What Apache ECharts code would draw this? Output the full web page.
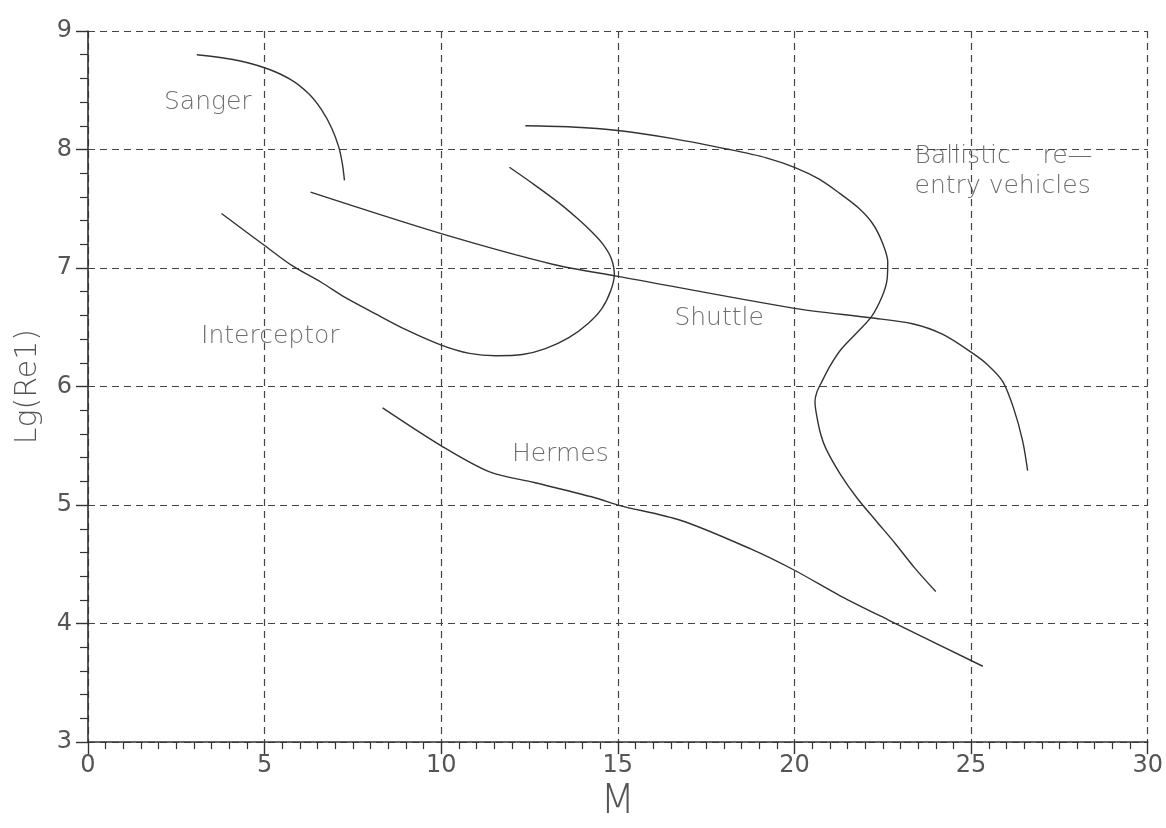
<!DOCTYPE html>
<html>
<head>
<meta charset="utf-8">
<title>Lg(Re1) vs M</title>
<script src="https://cdn.jsdelivr.net/npm/echarts@6/dist/echarts.min.js"></script>
<style>
  html, body { margin: 0; padding: 0; background: #fff; }
  #chart { width: 1166px; height: 828px; }
</style>
</head>
<body>
<div id="chart"></div>
<script>
// Flight corridors: Mach number M vs log10 of unit Reynolds number
const sanger = [[3.08,8.80],[4.1,8.76],[5.0,8.69],[5.74,8.59],[6.25,8.47],[6.6,8.34],[6.9,8.18],[7.1,8.02],[7.2,7.88],[7.26,7.74]];
const interceptor = [[3.78,7.46],[4.5,7.30],[5.0,7.19],[5.78,7.02],[6.6,6.88],[7.29,6.75],[8.1,6.62],[9.0,6.48],[10.0,6.35],[10.8,6.28],[11.55,6.26],[12.3,6.27],[12.95,6.32],[13.6,6.41],[14.15,6.53],[14.55,6.66],[14.8,6.81],[14.9,6.95],[14.8,7.09],[14.58,7.20],[14.28,7.30],[13.85,7.42],[13.33,7.55],[12.65,7.70],[11.93,7.85]];
const shuttle = [[6.3,7.64],[10.0,7.29],[13.18,7.03],[15.0,6.93],[20.0,6.66],[22.16,6.58],[23.34,6.53],[24.2,6.44],[25.0,6.29],[25.48,6.18],[25.9,6.04],[26.2,5.82],[26.46,5.54],[26.6,5.29]];
const ballistic = [[12.38,8.20],[13.7,8.19],[15.0,8.16],[16.6,8.09],[18.16,8.00],[19.2,7.93],[20.0,7.85],[20.7,7.75],[21.28,7.63],[21.8,7.51],[22.2,7.38],[22.48,7.22],[22.64,7.05],[22.62,6.90],[22.48,6.76],[22.18,6.59],[21.75,6.45],[21.31,6.31],[21.0,6.17],[20.79,6.05],[20.63,5.95],[20.58,5.87],[20.62,5.77],[20.74,5.60],[20.9,5.47],[21.3,5.26],[21.77,5.06],[22.3,4.87],[22.84,4.68],[23.4,4.47],[24.0,4.27]];
const hermes = [[8.34,5.82],[10.0,5.50],[11.37,5.28],[12.63,5.19],[14.37,5.06],[15.0,5.00],[16.79,4.87],[18.76,4.63],[20.0,4.45],[21.32,4.23],[22.66,4.03],[25.33,3.64]];

// Curve captions, anchored at the left end of each text line
const captionNames = ['Sanger', 'Interceptor', 'Shuttle', 'Hermes', 'Ballistic    re\u2014', 'entry vehicles'];
const captionAnchors = [[2.15,8.40],[3.2,6.42],[16.6,6.57],[12.0,5.43],[23.4,7.94],[23.4,7.69]];

const xTicks = { min: 0, max: 30, step: 5 };
const yTicks = { min: 3, max: 9, step: 1 };

const inkColor = '#333';
const textColor = '#555';
const fontFamily = 'DejaVu Sans, sans-serif';

function curve(name, data) {
  return {
    name: name,
    type: 'line',
    data: data,
    smooth: 0.3,
    showSymbol: false,
    symbol: 'none',
    lineStyle: { color: inkColor, width: 1.4 },
    silent: true,
    z: 3
  };
}

const chart = echarts.init(document.getElementById('chart'), null, { renderer: 'canvas' });

chart.setOption({
  backgroundColor: '#fff',
  animation: false,
  grid: { left: 88, right: 11, top: 31, bottom: 85 },
  xAxis: {
    type: 'value',
    min: xTicks.min, max: xTicks.max, interval: xTicks.step,
    name: 'M',
    nameLocation: 'middle',
    nameGap: 40,
    nameTextStyle: { fontSize: 40, color: textColor, fontFamily: fontFamily, fontWeight: 300 },
    axisLine: { show: true, lineStyle: { color: inkColor, width: 1.6 } },
    axisTick: { show: true, length: 12, lineStyle: { color: inkColor, width: 1.4 } },
    minorTick: { show: true, splitNumber: 10, length: 7, lineStyle: { color: inkColor, width: 1.2 } },
    axisLabel: { fontSize: 24, color: textColor, fontFamily: fontFamily, margin: 12 },
    splitLine: { show: true, lineStyle: { color: '#444', width: 1.2, type: [7, 5] } }
  },
  yAxis: {
    type: 'value',
    min: yTicks.min, max: yTicks.max, interval: yTicks.step,
    name: 'Lg(Re1)',
    nameLocation: 'middle',
    nameGap: 45,
    nameRotate: 90,
    nameTextStyle: { fontSize: 30, color: textColor, fontFamily: fontFamily, fontWeight: 300 },
    axisLine: { show: true, lineStyle: { color: inkColor, width: 1.6 } },
    axisTick: { show: true, length: 12, lineStyle: { color: inkColor, width: 1.4 } },
    minorTick: { show: true, splitNumber: 5, length: 8, lineStyle: { color: inkColor, width: 1.2 } },
    axisLabel: { fontSize: 24, color: textColor, fontFamily: fontFamily, margin: 16 },
    splitLine: { show: true, lineStyle: { color: '#444', width: 1.2, type: [7, 5] } }
  },
  series: [
    curve('Sanger', sanger),
    curve('Interceptor', interceptor),
    curve('Shuttle', shuttle),
    curve('Ballistic re-entry vehicles', ballistic),
    curve('Hermes', hermes),
    {
      name: 'captions',
      type: 'scatter',
      symbolSize: 0,
      silent: true,
      z: 4,
      data: captionAnchors.map((p, i) => ({ name: captionNames[i], value: p })),
      label: {
        show: true,
        position: 'right',
        distance: 0,
        formatter: p => p.name,
        fontSize: 25,
        color: '#4a4a4a',
        fontFamily: fontFamily,
        fontWeight: 300
      }
    }
  ]
});
</script>
</body>
</html>
